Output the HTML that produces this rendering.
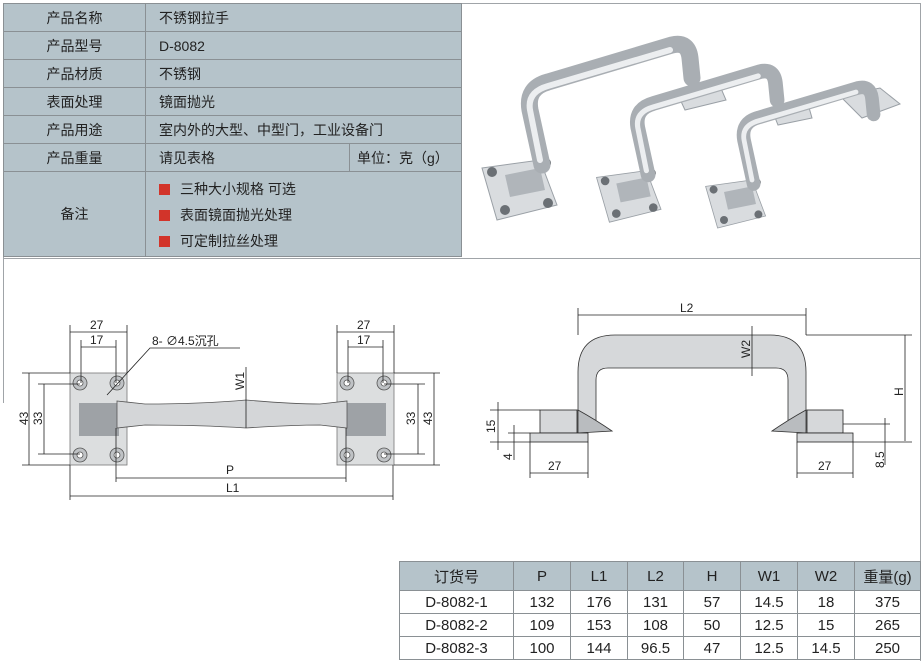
<!DOCTYPE html>
<html><head><meta charset="utf-8"><style>
body{margin:0;width:923px;height:661px;background:#fff;position:relative;overflow:hidden;font-family:"Liberation Sans","Noto Sans CJK SC",sans-serif;}
table{border-collapse:collapse;position:absolute;}
td{border:1px solid #8a9094;font-size:14px;color:#222;padding:0;}
#t1{left:3px;top:3px;width:459px;background:#b5c3ca;}
#t1 td{height:27px;}
#t1 td.l{width:141px;text-align:center;}
#t1 td.v{padding-left:13px;}
.sq{display:inline-block;width:11px;height:11px;background:#d2342a;margin-right:10px;vertical-align:-1px;}
#t2{left:399px;top:561px;width:522px;text-align:center;}
#t2 td{height:22px;font-size:15px;}
#t2 tr.h td{background:#b5c3ca;height:28px;}
</style></head><body>
<div style="position:absolute;left:3px;top:258px;width:917px;height:1px;background:#a0a4a8"></div>
<div style="position:absolute;left:3px;top:3px;width:1px;height:400px;background:#a0a4a8"></div>
<div style="position:absolute;left:920px;top:3px;width:1px;height:658px;background:#a0a4a8"></div>
<div style="position:absolute;left:3px;top:3px;width:917px;height:1px;background:#a0a4a8"></div>
<table id="t1">
<tr><td class="l">产品名称</td><td class="v" colspan="2">不锈钢拉手</td></tr>
<tr><td class="l">产品型号</td><td class="v" colspan="2">D-8082</td></tr>
<tr><td class="l">产品材质</td><td class="v" colspan="2">不锈钢</td></tr>
<tr><td class="l">表面处理</td><td class="v" colspan="2">镜面抛光</td></tr>
<tr><td class="l">产品用途</td><td class="v" colspan="2">室内外的大型、中型门，工业设备门</td></tr>
<tr><td class="l">产品重量</td><td class="v" style="width:190px">请见表格</td><td style="padding-left:7px">单位：克（g）</td></tr>
<tr><td class="l" style="height:84px">备注</td><td class="v" colspan="2" style="line-height:26px;padding-top:2px"><span class="sq"></span>三种大小规格 可选<br><span class="sq"></span>表面镜面抛光处理<br><span class="sq"></span>可定制拉丝处理</td></tr>
</table>

<svg width="923" height="661" style="position:absolute;left:0;top:0" font-family="Liberation Sans, sans-serif">
<!-- back plates -->
<path d="M678 95 L720 86 L726 100 L685 110 Z" fill="#d9dcdf" stroke="#9aa0a6"/>
<path d="M772 110 L808 104 L812 118 L778 125 Z" fill="#d9dcdf" stroke="#9aa0a6"/>
<path d="M840 96 L880 88 L900 104 L862 118 Z" fill="#d9dcdf" stroke="#9aa0a6"/>
<g>
<path d="M482 168 L540 160 L557 205 L497 220 Z" fill="#d9dcdf" stroke="#9aa0a6"/>
<circle cx="492" cy="172" r="5" fill="#6b7075"/><circle cx="546" cy="163" r="5" fill="#6b7075"/><circle cx="505" cy="210" r="5" fill="#6b7075"/><circle cx="548" cy="203" r="5" fill="#6b7075"/>
<path d="M505 175 L540 168 L545 190 L510 197 Z" fill="#b0b5ba"/>
<path d="M542 165 L530 110 Q526 88 548 82 L672 45 Q688 41 690 58 L692 78" fill="none" stroke="#a9aeb3" stroke-width="17" stroke-linecap="round"/>
<path d="M540 160 L530 110 Q527 92 548 86 L670 50" fill="none" stroke="#eceef0" stroke-width="6" stroke-linecap="round"/>
</g>
<g transform="translate(182 33) scale(0.86)">
<path d="M482 168 L540 160 L557 205 L497 220 Z" fill="#d9dcdf" stroke="#9aa0a6"/>
<circle cx="492" cy="172" r="5" fill="#6b7075"/><circle cx="546" cy="163" r="5" fill="#6b7075"/><circle cx="505" cy="210" r="5" fill="#6b7075"/><circle cx="548" cy="203" r="5" fill="#6b7075"/>
<path d="M505 175 L540 168 L545 190 L510 197 Z" fill="#b0b5ba"/>
<path d="M542 165 L530 110 Q526 88 548 82 L672 45 Q688 41 690 58 L692 78" fill="none" stroke="#a9aeb3" stroke-width="17" stroke-linecap="round"/>
<path d="M540 160 L530 110 Q527 92 548 86 L670 50" fill="none" stroke="#eceef0" stroke-width="6" stroke-linecap="round"/>
</g>
<g transform="translate(320 52) scale(0.8)">
<path d="M482 168 L540 160 L557 205 L497 220 Z" fill="#d9dcdf" stroke="#9aa0a6"/>
<circle cx="492" cy="172" r="5" fill="#6b7075"/><circle cx="546" cy="163" r="5" fill="#6b7075"/><circle cx="505" cy="210" r="5" fill="#6b7075"/><circle cx="548" cy="203" r="5" fill="#6b7075"/>
<path d="M505 175 L540 168 L545 190 L510 197 Z" fill="#b0b5ba"/>
<path d="M542 165 L530 110 Q526 88 548 82 L672 45 Q688 41 690 58 L692 78" fill="none" stroke="#a9aeb3" stroke-width="17" stroke-linecap="round"/>
<path d="M540 160 L530 110 Q527 92 548 86 L670 50" fill="none" stroke="#eceef0" stroke-width="6" stroke-linecap="round"/>
</g>

<g stroke="#222" stroke-width="0.8" fill="none">
<!-- left drawing -->
<rect x="70" y="373" width="57" height="92" fill="#dcdedf" stroke="#777"/>
<rect x="337" y="373" width="57" height="92" fill="#dcdedf" stroke="#777"/>
<rect x="79" y="403" width="40" height="33" fill="#9ea2a6" stroke="none"/>
<rect x="346" y="403" width="40" height="33" fill="#9ea2a6" stroke="none"/>
<path d="M117 401 L145 404 Q200 404 246 400 Q292 404 320 404 L347 401 L347 428 L320 425 Q292 425 246 428 Q200 425 145 425 L117 428 Z" fill="#d4d6d8" stroke="#555"/>
<g fill="#bfc2c5" stroke="#555"><circle cx="80" cy="383" r="7"/><circle cx="117" cy="383" r="7"/><circle cx="80" cy="455" r="7"/><circle cx="117" cy="455" r="7"/><circle cx="347" cy="383" r="7"/><circle cx="384" cy="383" r="7"/><circle cx="347" cy="455" r="7"/><circle cx="384" cy="455" r="7"/></g>
<g fill="#fff" stroke="#555"><circle cx="80" cy="383" r="3"/><circle cx="117" cy="383" r="3"/><circle cx="80" cy="455" r="3"/><circle cx="117" cy="455" r="3"/><circle cx="347" cy="383" r="3"/><circle cx="384" cy="383" r="3"/><circle cx="347" cy="455" r="3"/><circle cx="384" cy="455" r="3"/></g>
<path d="M70 373 V325 M127 373 V325 M81 383 V340 M116 383 V340 M337 373 V325 M394 373 V325 M348 383 V340 M383 383 V340"/>
<path d="M70 332 H127 M81 347 H116 M337 332 H394 M348 347 H383"/>
<path d="M22 373 H70 M22 465 H70 M38 384 H80 M38 454 H80 M29 373 V465 M44 384 V454"/>
<path d="M394 373 H440 M394 465 H440 M384 384 H425 M384 454 H425 M434 373 V465 M418 384 V454"/>
<path d="M116 428 V482 M346 428 V482 M70 465 V500 M393 465 V500 M116 478 H346 M70 496 H393"/>
<path d="M246 367 V428 M107 395 L150 348 H240"/>
<!-- right drawing -->
<path d="M578 440 V372 Q578 335 615 335 H770 Q806 335 806 372 V430 L788 430 V380 Q788 368 776 368 H608 Q596 368 596 380 V425 Z" fill="#d6d8da" stroke="#333"/>
<path d="M578 410 Q596 420 612 431 L578 433 Z M806 410 Q788 420 772 431 L806 433 Z" fill="#b9bcbf" stroke="#333"/>
<rect x="540" y="410" width="37" height="23" fill="#d6d8da"/><rect x="530" y="433" width="58" height="9" fill="#d6d8da"/>
<rect x="807" y="410" width="36" height="23" fill="#d6d8da"/><rect x="797" y="433" width="56" height="9" fill="#d6d8da"/>
<path d="M578 335 V308 M806 335 V308 M578 315 H806 M806 335 H912 M905 335 V441 M752 326 V376 M853 442 H912"/>
<path d="M490 410 H540 M490 442 H530 M498 402 V450 M508 433 H530 M514 425 V460 M530 442 V478 M588 442 V478 M530 473 H588"/>
<path d="M797 442 V478 M853 442 V478 M797 473 H853 M843 424 H890 M885 418 V465"/>
</g>
<g fill="#222" font-size="12">
<text x="90" y="329">27</text><text x="90" y="344">17</text><text x="357" y="329">27</text><text x="357" y="344">17</text>
<text x="152" y="345">8- ∅4.5沉孔</text>
<text x="226" y="474">P</text><text x="226" y="492">L1</text>
<text x="28" y="425" transform="rotate(-90 28 425)" font-size="12">43</text>
<text x="42" y="425" transform="rotate(-90 42 425)">33</text>
<text x="415" y="425" transform="rotate(-90 415 425)">33</text>
<text x="432" y="425" transform="rotate(-90 432 425)">43</text>
<text x="244" y="390" transform="rotate(-90 244 390)">W1</text>
<text x="680" y="312">L2</text>
<text x="750" y="358" transform="rotate(-90 750 358)">W2</text>
<text x="903" y="396" transform="rotate(-90 903 396)">H</text>
<text x="495" y="433" transform="rotate(-90 495 433)">15</text>
<text x="512" y="460" transform="rotate(-90 512 460)">4</text>
<text x="548" y="470">27</text><text x="818" y="470">27</text>
<text x="884" y="468" transform="rotate(-90 884 468)">8.5</text>
</g>
</svg>

<table id="t2">
<tr class="h"><td style="width:113px">订货号</td><td style="width:56px">P</td><td style="width:56px">L1</td><td style="width:55px">L2</td><td style="width:56px">H</td><td style="width:56px">W1</td><td style="width:56px">W2</td><td>重量(g)</td></tr>
<tr><td>D-8082-1</td><td>132</td><td>176</td><td>131</td><td>57</td><td>14.5</td><td>18</td><td>375</td></tr>
<tr><td>D-8082-2</td><td>109</td><td>153</td><td>108</td><td>50</td><td>12.5</td><td>15</td><td>265</td></tr>
<tr><td>D-8082-3</td><td>100</td><td>144</td><td>96.5</td><td>47</td><td>12.5</td><td>14.5</td><td>250</td></tr>
</table>
</body></html>
